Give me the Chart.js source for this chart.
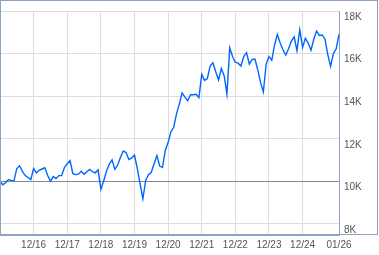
<!DOCTYPE html>
<html>
<head>
<meta charset="utf-8">
<script src="https://cdn.jsdelivr.net/npm/chart.js@4/dist/chart.umd.min.js"></script>
<style>
  html, body { margin: 0; padding: 0; background: #fff; }
  canvas { display: block; }
</style>
</head>
<body>
<canvas id="grafico" width="379" height="255"></canvas>
<script>
// monthly points, Dec 2015 .. Jan 2026
const meses = [];
for (let ano = 2015, m = 12; ano < 2026 || m <= 1; ) {
  meses.push(String(m).padStart(2, '0') + '/' + String(ano % 100).padStart(2, '0'));
  m++;
  if (m > 12) { m = 1; ano++; }
}

const valores = [
  10000, 9840, 9930, 10080, 10045, 10035, 10600, 10730, 10470, 10270, 10180, 10080,
  10600, 10400, 10520, 10580, 10640, 10290, 10000, 10225, 10135, 10270, 10270, 10650,
  10830, 10980, 10360, 10315, 10335, 10470, 10335, 10450, 10560, 10450, 10400, 10540,
  9630, 10020, 10470, 10810, 11010, 10560, 10765, 11130, 11430, 11350, 11025, 11100,
  11235, 10605, 9890, 9180, 10045, 10315, 10425, 10830, 11210, 10720, 10650, 11460,
  11820, 12330, 12540, 13170, 13620, 14155, 13955, 13785, 14065, 14065, 14090, 13930,
  15025, 14740, 14830, 15415, 15570, 15145, 14760, 15295, 14965, 14100, 16270, 15865,
  15595, 15550, 15415, 15865, 16045, 15505, 15730, 15745, 15235, 14650, 14200, 15505,
  15865, 15685, 16405, 16900, 16495, 16180, 15925, 16225, 16585, 16785, 16135, 17125,
  16290, 16720, 16495, 16155, 16675, 17055, 16855, 16875, 16675, 15955, 15400, 16000,
  16225, 16900
];

const rotulosX = ['12/16', '12/17', '12/18', '12/19', '12/20', '12/21', '12/22', '12/23', '12/24', '01/26'];
const ticksY = [8000, 10000, 12000, 14000, 16000, 18000];
const linhaBase = 10000;

const corMoldura = '#8fa3c2';

const moldura = {
  id: 'moldura',
  afterDraw(chart) {
    const ctx = chart.ctx;
    ctx.save();
    ctx.strokeStyle = corMoldura;
    ctx.lineWidth = 1;
    ctx.strokeRect(0.5, 0.5, 377, 234);
    ctx.restore();
  }
};

const ctx = document.getElementById('grafico').getContext('2d');
new Chart(ctx, {
  type: 'line',
  data: {
    labels: meses,
    datasets: [{
      data: valores,
      borderColor: '#0066ff',
      borderWidth: 1.4,
      pointRadius: 0,
      fill: false,
      tension: 0
    }]
  },
  options: {
    responsive: false,
    animation: false,
    layout: { padding: { left: 0, top: 1, right: 0, bottom: 0 } },
    plugins: {
      legend: { display: false },
      tooltip: { enabled: false }
    },
    scales: {
      x: {
        type: 'category',
        offset: false,
        afterBuildTicks: (scale) => {
          scale.ticks = scale.ticks.filter(t => rotulosX.includes(meses[t.value]));
        },
        afterFit: (scale) => { scale.height = 20; },
        grid: { color: '#dddddd', lineWidth: 1, drawTicks: false },
        border: { display: true, color: corMoldura },
        ticks: {
          autoSkip: false,
          maxRotation: 0,
          padding: 4,
          color: '#555',
          font: { family: 'Liberation Sans, Arial, sans-serif', size: 10 }
        }
      },
      y: {
        position: 'right',
        min: 7480,
        max: 18000,
        afterBuildTicks: (scale) => {
          scale.ticks = ticksY.map(v => ({ value: v }));
        },
        afterFit: (scale) => { scale.width = 40; },
        grid: {
          drawTicks: false,
          lineWidth: 1,
          color: (c) => (c.tick && c.tick.value === linhaBase) ? '#888888' : '#dddddd'
        },
        border: { display: true, color: corMoldura },
        ticks: {
          padding: 5,
          labelOffset: 6,
          color: '#555',
          font: { family: 'Liberation Sans, Arial, sans-serif', size: 10 },
          callback: (v) => (v / 1000) + 'K'
        }
      }
    }
  },
  plugins: [moldura]
});
</script>
</body>
</html>
